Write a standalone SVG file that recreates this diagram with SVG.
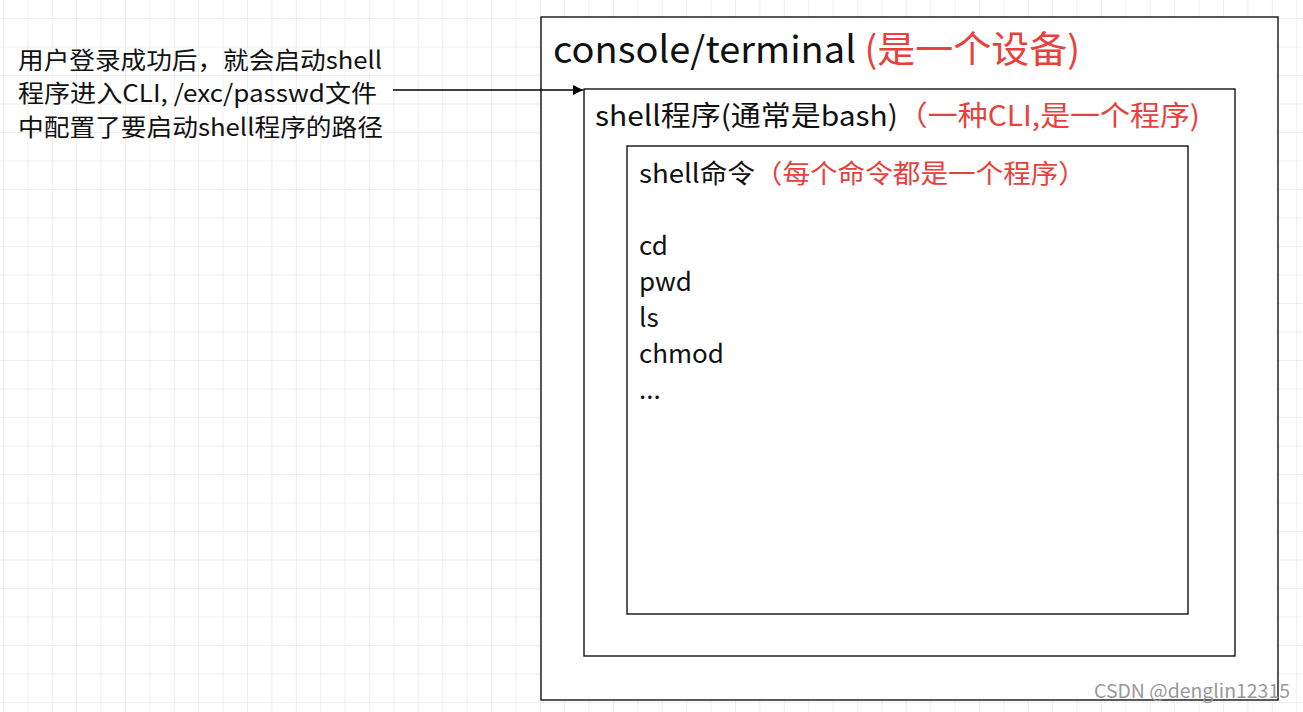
<svg xmlns="http://www.w3.org/2000/svg" width="1303" height="712" viewBox="0 0 1303 712">
<defs>
<pattern id="grid" x="3" y="18" width="24.4" height="28.5" patternUnits="userSpaceOnUse">
<path d="M0 0H24.4M0 0V28.5" fill="none" stroke="#e0e0e0" stroke-width="1"/>
</pattern>
<marker id="arr" viewBox="0 0 10 10" refX="10" refY="5" markerWidth="10" markerHeight="10" markerUnits="userSpaceOnUse" orient="auto">
<path d="M0 0L10 5L0 10z" fill="#000"/>
</marker>
<style>
text{font-family:"Noto Sans CJK SC","Noto Sans",sans-serif;fill:#111}
.box{fill:#fff;stroke:#000;stroke-width:1.3}
.red{fill:#e8403a}
</style>
</defs>
<rect width="1303" height="712" fill="#fff"/>
<rect width="1303" height="712" fill="url(#grid)"/>
<g id="note">
<text x="18" y="69" font-size="24" textLength="364" lengthAdjust="spacingAndGlyphs">用户登录成功后，就会启动shell</text>
<text x="18" y="102" font-size="24" textLength="359" lengthAdjust="spacingAndGlyphs">程序进入CLI, /exc/passwd文件</text>
<text x="18" y="136" font-size="24" textLength="365" lengthAdjust="spacingAndGlyphs">中配置了要启动shell程序的路径</text>
</g>
<g id="console">
<rect class="box" x="541" y="17" width="737" height="683"/>
<text x="553" y="63" font-size="37" textLength="527" lengthAdjust="spacingAndGlyphs">console/terminal <tspan class="red">(是一个设备)</tspan></text>
</g>
<g id="shell">
<rect class="box" x="584" y="89" width="651" height="567"/>
<text x="595" y="126" font-size="28" textLength="605" lengthAdjust="spacingAndGlyphs">shell程序(通常是bash)<tspan class="red">（一种CLI,是一个程序)</tspan></text>
</g>
<g id="commands">
<rect class="box" x="627" y="146" width="561" height="468"/>
<text x="639" y="183" font-size="26" textLength="447" lengthAdjust="spacingAndGlyphs">shell命令<tspan class="red">（每个命令都是一个程序）</tspan></text>
<text x="639" y="255" font-size="26">cd</text>
<text x="639" y="291" font-size="26">pwd</text>
<text x="639" y="327" font-size="26">ls</text>
<text x="639" y="363" font-size="26">chmod</text>
<text x="639" y="399" font-size="26">...</text>
</g>
<g id="connectors">
<line x1="393" y1="90" x2="583" y2="90" stroke="#000" stroke-width="1.3" marker-end="url(#arr)"/>
</g>
<text x="1094" y="698" font-size="19" textLength="196" lengthAdjust="spacingAndGlyphs" style="fill:#999">CSDN @denglin12315</text>
</svg>
